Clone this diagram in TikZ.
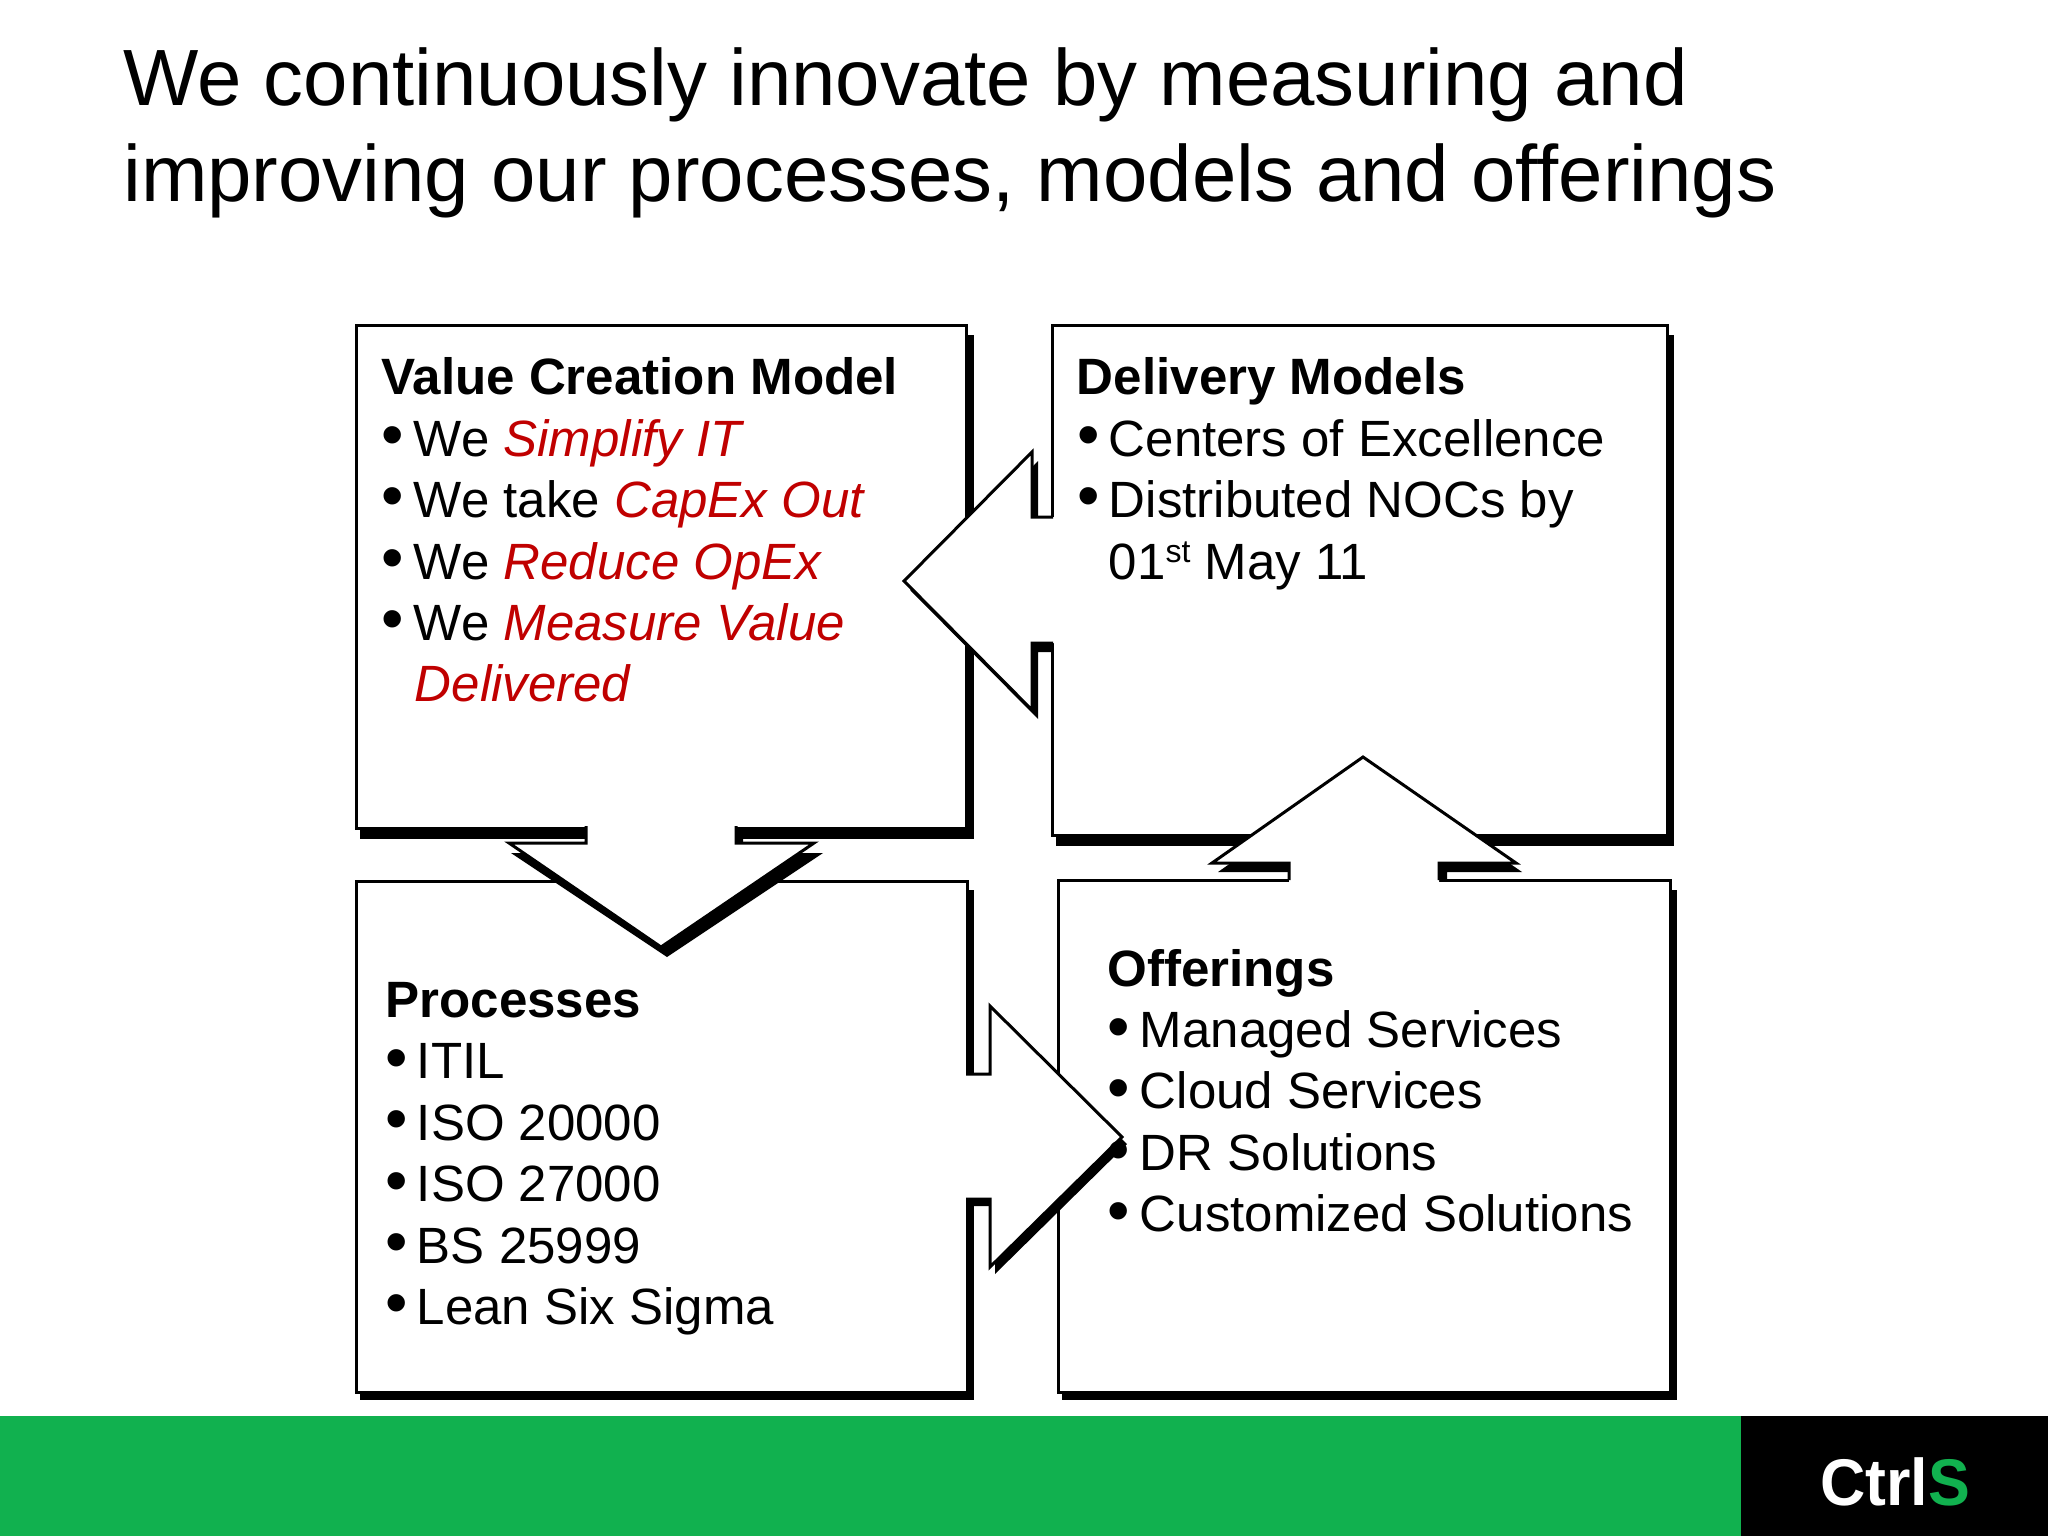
\documentclass[tikz,border=0pt]{standalone}
\usepackage{fontspec}
\setmainfont{Liberation Sans}
\definecolor{ctrlgreen}{HTML}{11B14F}
\definecolor{accent}{HTML}{C00000}
\tikzset{
  panel/.style={draw=black,fill=white,line width=1.5pt,line join=miter},
  shade/.style={fill=black,draw=none},
  arrowfill/.style={fill=white,draw=none},
  arrowline/.style={draw=black,line width=1.5pt,line join=miter,line cap=butt},
  titletxt/.style={anchor=base west,inner sep=0pt,font=\fontsize{39.9pt}{48pt}\selectfont},
  head/.style={anchor=base west,inner sep=0pt,font=\fontsize{25.55pt}{30pt}\selectfont\bfseries},
  item/.style={anchor=base west,inner sep=0pt,font=\fontsize{25.5pt}{30pt}\selectfont},
  dot/.style={anchor=base west,inner sep=0pt,font=\fontsize{32pt}{30pt}\selectfont},
}
\newcommand{\emr}[1]{\textcolor{accent}{\textit{#1}}}
\begin{document}
\begin{tikzpicture}[x=0.5pt,y=-0.5pt]
\useasboundingbox (0,0) rectangle (2048,1536);
% footer
\fill[ctrlgreen] (0,1416) rectangle (1741,1536);
\fill[black] (1741,1416) rectangle (2048,1536);
\node[anchor=base west,inner sep=0pt,xscale=0.95,font=\fontsize{33pt}{36pt}\selectfont\bfseries,text=white] (logo) at (1820,1505) {Ctrl\textcolor{ctrlgreen}{S}};
% title
\node[titletxt] (t1) at (123,105) {We continuously innovate by measuring and};
\node[titletxt] (t2) at (123,201) {improving our processes, models and offerings};
% panels
\fill[shade] (360,335) rectangle (974,839);
\path[panel] (356,325) rectangle (966,828);
\fill[shade] (1056,335) rectangle (1674,846);
\path[panel] (1052,325) rectangle (1667,835);
\fill[shade] (360,890) rectangle (974,1400);
\path[panel] (356,881) rectangle (967,1392);
\fill[shade] (1062,890) rectangle (1677,1400);
\path[panel] (1058,880) rectangle (1670,1392);
% left arrow (Delivery -> Value)
\fill[shade] (910,590) -- (1038,461) -- (1038,526) -- (1052,526) -- (1052,652) -- (1038,652) -- (1038,719) -- cycle;
\fill[arrowfill] (904,581) -- (1032,452) -- (1032,517) -- (1056,517) -- (1056,643) -- (1032,643) -- (1032,710) -- cycle;
\draw[arrowline] (1053,517) -- (1032,517) -- (1032,452) -- (904,581) -- (1032,710) -- (1032,643) -- (1053,643);
% down arrow (Value -> Processes)
\fill[shade] (743,827) -- (743,853) -- (823,853) -- (667,957) -- (511,853) -- (593,853) -- (593,827) -- cycle;
\fill[arrowfill] (586,823) -- (586,843) -- (509,843) -- (661,947) -- (814,843) -- (736,843) -- (736,823) -- cycle;
\draw[arrowline] (586,826) -- (586,843) -- (509,843) -- (661,947) -- (814,843) -- (736,843) -- (736,826);
% right arrow (Processes -> Offerings)
\fill[shade] (967,1081) -- (995,1081) -- (995,1013) -- (1127,1144) -- (995,1274) -- (995,1206) -- (967,1206) -- cycle;
\fill[arrowfill] (962,1074) -- (990,1074) -- (990,1006) -- (1122,1137) -- (990,1267) -- (990,1199) -- (962,1199) -- cycle;
\draw[arrowline] (966,1074) -- (990,1074) -- (990,1006) -- (1122,1137) -- (990,1267) -- (990,1199) -- (966,1199);
% up arrow (Offerings -> Delivery)
\fill[shade] (1447,880) -- (1447,872) -- (1522,872) -- (1369,766) -- (1218,872) -- (1295,872) -- (1295,880) -- cycle;
\fill[arrowfill] (1289,883) -- (1289,863) -- (1212,863) -- (1363,757) -- (1516,863) -- (1439,863) -- (1439,883) -- cycle;
\draw[arrowline] (1289,880) -- (1289,863) -- (1212,863) -- (1363,757) -- (1516,863) -- (1439,863) -- (1439,880);
% Value Creation Model
\node[head] (a0) at (381,394) {Value Creation Model};
\node[dot] (ad1) at (381,456) {•}; \node[item] (a1) at (413.5,456) {We \emr{Simplify IT}};
\node[dot] (ad2) at (381,517) {•}; \node[item] (a2) at (413.5,517) {We take \emr{CapEx Out}};
\node[dot] (ad3) at (381,579) {•}; \node[item] (a3) at (413.5,579) {We \emr{Reduce OpEx}};
\node[dot] (ad4) at (381,640) {•}; \node[item] (a4) at (413.5,640) {We \emr{Measure Value}};
\node[item] (a5) at (414.5,701) {\emr{Delivered}};
% Delivery Models
\node[head] (b0) at (1076.5,394) {Delivery Models};
\node[dot] (bd1) at (1077,456) {•}; \node[item] (b1) at (1108.5,456) {Centers of Excellence};
\node[dot] (bd2) at (1077,517) {•}; \node[item] (b2) at (1108.5,517) {Distributed NOCs by};
\node[item] (b3) at (1108.5,579) {01\raisebox{0.62ex}{\fontsize{16pt}{18pt}\selectfont st} May 11};
% Processes
\node[head] (c0) at (385,1017) {Processes};
\node[dot] (cd1) at (385,1079) {•}; \node[item] (c1) at (416.5,1078) {ITIL};
\node[dot] (cd2) at (385,1140) {•}; \node[item] (c2) at (416.5,1140) {ISO 20000};
\node[dot] (cd3) at (385,1202) {•}; \node[item] (c3) at (416.5,1201) {ISO 27000};
\node[dot] (cd4) at (385,1263) {•}; \node[item] (c4) at (416.5,1263) {BS 25999};
\node[dot] (cd5) at (385,1324) {•}; \node[item] (c5) at (416.5,1324) {Lean Six Sigma};
% Offerings
\node[head] (d0) at (1107,986) {Offerings};
\node[dot] (dd1) at (1107,1048) {•}; \node[item] (d1) at (1139.5,1047) {Managed Services};
\node[dot] (dd2) at (1107,1109) {•}; \node[item] (d2) at (1139.5,1108.5) {Cloud Services};
\node[dot] (dd3) at (1107,1171) {•}; \node[item] (d3) at (1139.5,1170) {DR Solutions};
\node[dot] (dd4) at (1107,1232) {•}; \node[item] (d4) at (1139.5,1231.5) {Customized Solutions};
\end{tikzpicture}
\end{document}
